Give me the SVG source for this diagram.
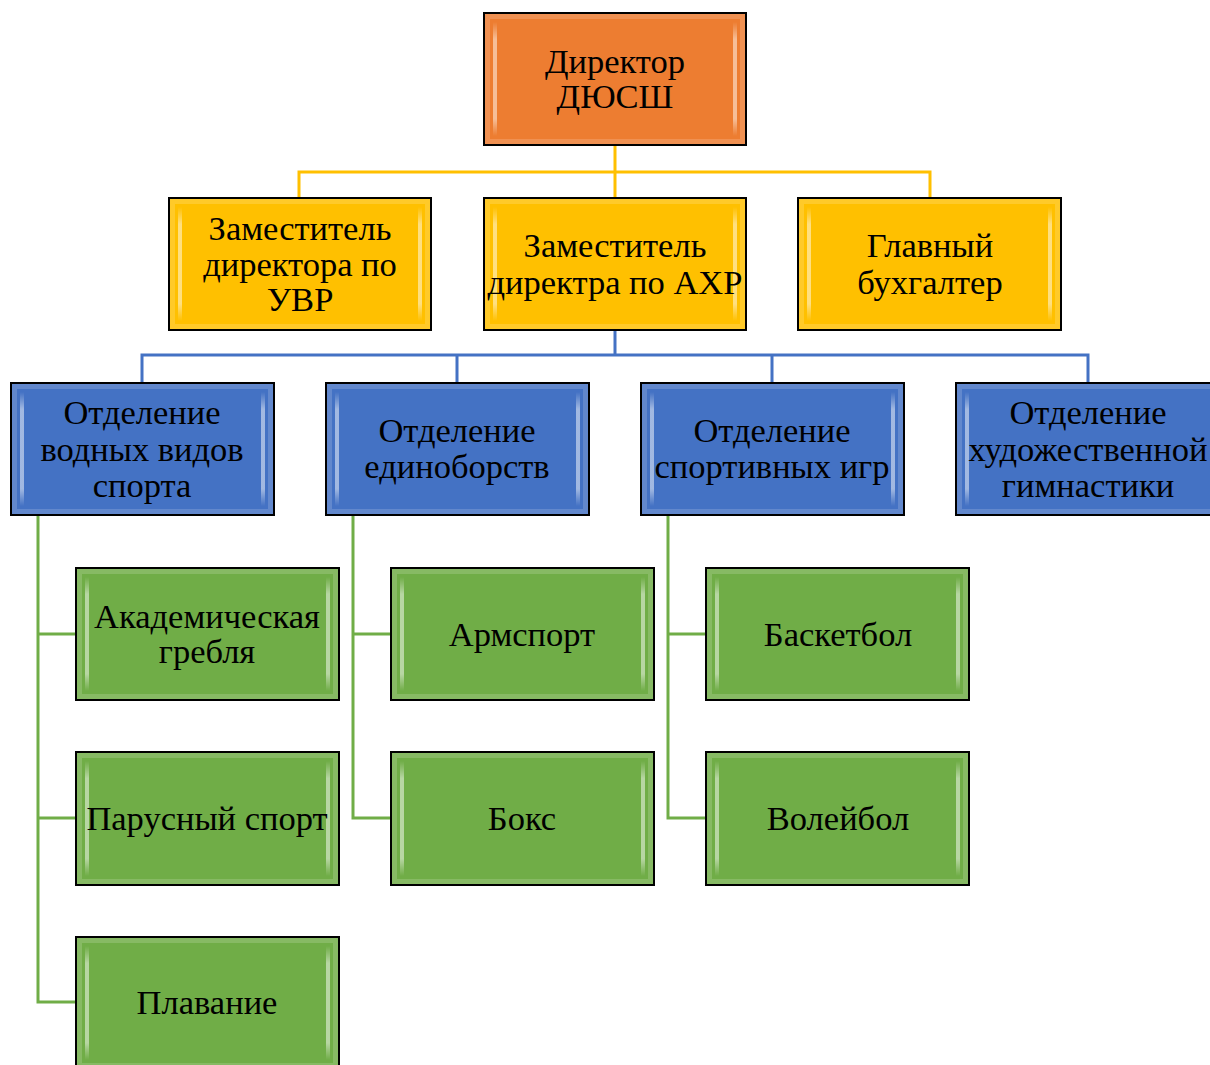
<svg xmlns="http://www.w3.org/2000/svg" width="1210" height="1065" viewBox="0 0 1210 1065">
<defs>
<style>
.box{stroke:#000;stroke-width:2}
.orange{fill:#ED7D31}
.yellow{fill:#FFC000}
.blue{fill:#4472C4}
.green{fill:#70AD47}
.bevel{fill:none;stroke:#fff;stroke-opacity:0.16;stroke-width:5}
.hl{fill:url(#hlg)}
text{font-family:"Liberation Serif","Times New Roman",serif;font-size:34.5px;fill:#000;text-anchor:middle}
.cy{fill:none;stroke:#FFC000;stroke-width:3}
.cb{fill:none;stroke:#4472C4;stroke-width:3}
.cg{fill:none;stroke:#70AD47;stroke-width:3}
</style>
<linearGradient id="hlg" x1="0" y1="0" x2="0" y2="1">
<stop offset="0" stop-color="#fff" stop-opacity="0"/>
<stop offset="0.15" stop-color="#fff" stop-opacity="0.5"/>
<stop offset="0.85" stop-color="#fff" stop-opacity="0.5"/>
<stop offset="1" stop-color="#fff" stop-opacity="0"/>
</linearGradient>
</defs>
<g id="connectors">
<path class="cy" d="M615 145V172M299 198V172H930V198M615 172V198"/>
<path class="cb" d="M615 330V355M142 383V355H1088V383M457 355V383M772 355V383"/>
<path class="cg" d="M38 515V1002H76M38 634H76M38 818H76"/>
<path class="cg" d="M353 515V818H391M353 634H391"/>
<path class="cg" d="M668 515V818H706M668 634H706"/>
</g>
<g id="n-director">
<rect class="box orange" x="484" y="13" width="262" height="132"/>
<rect class="bevel" x="487.5" y="16.5" width="255" height="125"/>
<rect class="hl" x="493" y="22" width="4" height="114"/><rect class="hl" x="733" y="22" width="4" height="114"/>
<text x="615" y="73">Директор</text><text x="615" y="108">ДЮСШ</text>
</g>
<g id="n-uvr">
<rect class="box yellow" x="169" y="198" width="262" height="132"/>
<rect class="bevel" x="172.5" y="201.5" width="255" height="125"/>
<rect class="hl" x="178" y="207" width="4" height="114"/><rect class="hl" x="418" y="207" width="4" height="114"/>
<text x="300" y="240">Заместитель</text><text x="300" y="276">директора по</text><text x="300" y="311">УВР</text>
</g>
<g id="n-axr">
<rect class="box yellow" x="484" y="198" width="262" height="132"/>
<rect class="bevel" x="487.5" y="201.5" width="255" height="125"/>
<rect class="hl" x="493" y="207" width="4" height="114"/><rect class="hl" x="733" y="207" width="4" height="114"/>
<text x="615" y="257">Заместитель</text><text x="615" y="294">директра по АХР</text>
</g>
<g id="n-buh">
<rect class="box yellow" x="798" y="198" width="263" height="132"/>
<rect class="bevel" x="801.5" y="201.5" width="256" height="125"/>
<rect class="hl" x="807" y="207" width="4" height="114"/><rect class="hl" x="1048" y="207" width="4" height="114"/>
<text x="930" y="257">Главный</text><text x="930" y="294">бухгалтер</text>
</g>
<g id="n-water">
<rect class="box blue" x="11" y="383" width="263" height="132"/>
<rect class="bevel" x="14.5" y="386.5" width="256" height="125"/>
<rect class="hl" x="20" y="392" width="4" height="114"/><rect class="hl" x="261" y="392" width="4" height="114"/>
<text x="142" y="424">Отделение</text><text x="142" y="461">водных видов</text><text x="142" y="497">спорта</text>
</g>
<g id="n-combat">
<rect class="box blue" x="326" y="383" width="263" height="132"/>
<rect class="bevel" x="329.5" y="386.5" width="256" height="125"/>
<rect class="hl" x="335" y="392" width="4" height="114"/><rect class="hl" x="576" y="392" width="4" height="114"/>
<text x="457" y="442">Отделение</text><text x="457" y="478">единоборств</text>
</g>
<g id="n-games">
<rect class="box blue" x="641" y="383" width="263" height="132"/>
<rect class="bevel" x="644.5" y="386.5" width="256" height="125"/>
<rect class="hl" x="650" y="392" width="4" height="114"/><rect class="hl" x="891" y="392" width="4" height="114"/>
<text x="772" y="442">Отделение</text><text x="772" y="478">спортивных игр</text>
</g>
<g id="n-gym">
<rect class="box blue" x="956" y="383" width="263" height="132"/>
<rect class="bevel" x="959.5" y="386.5" width="256" height="125"/>
<rect class="hl" x="965" y="392" width="4" height="114"/>
<text x="1088" y="424">Отделение</text><text x="1088" y="461">художественной</text><text x="1088" y="497">гимнастики</text>
</g>
<g id="n-rowing">
<rect class="box green" x="76" y="568" width="263" height="132"/>
<rect class="bevel" x="79.5" y="571.5" width="256" height="125"/>
<rect class="hl" x="85" y="577" width="4" height="114"/><rect class="hl" x="326" y="577" width="4" height="114"/>
<text x="207" y="628">Академическая</text><text x="207" y="663">гребля</text>
</g>
<g id="n-arm">
<rect class="box green" x="391" y="568" width="263" height="132"/>
<rect class="bevel" x="394.5" y="571.5" width="256" height="125"/>
<rect class="hl" x="400" y="577" width="4" height="114"/><rect class="hl" x="641" y="577" width="4" height="114"/>
<text x="522" y="646">Армспорт</text>
</g>
<g id="n-basket">
<rect class="box green" x="706" y="568" width="263" height="132"/>
<rect class="bevel" x="709.5" y="571.5" width="256" height="125"/>
<rect class="hl" x="715" y="577" width="4" height="114"/><rect class="hl" x="956" y="577" width="4" height="114"/>
<text x="838" y="646">Баскетбол</text>
</g>
<g id="n-sail">
<rect class="box green" x="76" y="752" width="263" height="133"/>
<rect class="bevel" x="79.5" y="755.5" width="256" height="126"/>
<rect class="hl" x="85" y="761" width="4" height="115"/><rect class="hl" x="326" y="761" width="4" height="115"/>
<text x="207" y="830">Парусный спорт</text>
</g>
<g id="n-box">
<rect class="box green" x="391" y="752" width="263" height="133"/>
<rect class="bevel" x="394.5" y="755.5" width="256" height="126"/>
<rect class="hl" x="400" y="761" width="4" height="115"/><rect class="hl" x="641" y="761" width="4" height="115"/>
<text x="522" y="830">Бокс</text>
</g>
<g id="n-volley">
<rect class="box green" x="706" y="752" width="263" height="133"/>
<rect class="bevel" x="709.5" y="755.5" width="256" height="126"/>
<rect class="hl" x="715" y="761" width="4" height="115"/><rect class="hl" x="956" y="761" width="4" height="115"/>
<text x="838" y="830">Волейбол</text>
</g>
<g id="n-swim">
<rect class="box green" x="76" y="937" width="263" height="132"/>
<rect class="bevel" x="79.5" y="940.5" width="256" height="125"/>
<rect class="hl" x="85" y="946" width="4" height="114"/><rect class="hl" x="326" y="946" width="4" height="114"/>
<text x="207" y="1014">Плавание</text>
</g>
</svg>
